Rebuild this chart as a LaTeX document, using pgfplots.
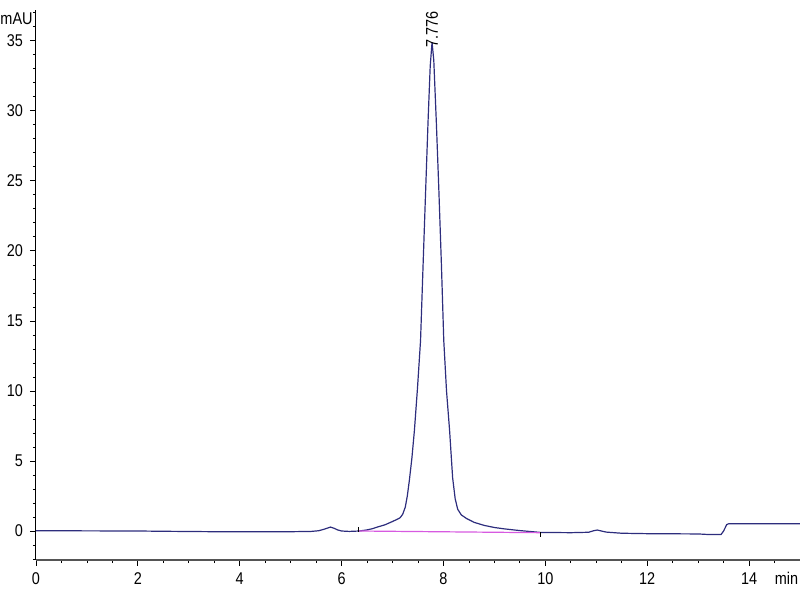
\documentclass[border=0pt]{standalone}
\usepackage{pgfplots}
\pgfplotsset{compat=1.18}
\usepackage{fontspec}
\setmainfont[FakeStretch=0.85]{Liberation Sans}
\definecolor{trace}{RGB}{45,45,125}
\definecolor{basel}{RGB}{215,90,225}
\definecolor{axgray}{RGB}{85,85,85}
\begin{document}
\begin{tikzpicture}
\begin{axis}[
  scale only axis, width=382pt, height=275pt,
  xmin=0, xmax=15, ymin=-2.07, ymax=37.2,
  axis x line*=bottom, axis y line*=left,
  axis line style={-},
  x axis line style={draw=axgray, line width=1.1pt},
  y axis line style={draw=black, line width=0.5pt},
  xtick={0,2,...,14}, minor xtick={0,0.5,...,15},
  ytick={0,5,...,35}, minor ytick={-2,-1,...,37},
  tick align=outside,
  major tick length=3pt, minor tick length=1.6pt,
  tick style={black, line width=0.4pt},
  ticklabel style={font=\fontsize{8.5}{9}\selectfont},
  /pgf/number format/assume math mode=true,
  clip=false,
]
\addplot[trace, line width=0.6pt] coordinates {
(0,0.02) (1,0.01) (2,0.0) (2.5,-0.02) (3.5,-0.05) (4.5,-0.05) (5.0,-0.05) (5.4,-0.03)
(5.55,0.02) (5.65,0.12) (5.78,0.28) (5.85,0.2) (5.92,0.08) (6.0,0.0) (6.15,-0.03)
(6.35,0.0) (6.5,0.08) (6.6,0.16) (6.7,0.28) (6.85,0.44) (7.0,0.68) (7.1,0.85) (7.15,0.95)
(7.2,1.2) (7.25,1.7) (7.29,2.5) (7.33,3.6) (7.38,5.2) (7.43,7.2) (7.49,10.2) (7.55,13.6)
(7.6,19.0) (7.65,24.3) (7.7,29.5) (7.74,33.2) (7.776,34.9) (7.81,33.6) (7.86,29.2)
(7.91,24.3) (7.96,19.0) (8.006,13.6) (8.06,10.0) (8.12,7.2) (8.18,3.8) (8.23,2.3)
(8.28,1.55) (8.35,1.15) (8.45,0.9) (8.6,0.62) (8.8,0.4) (9.0,0.25) (9.2,0.15) (9.5,0.03)
(9.9,-0.1) (10.5,-0.12) (10.85,-0.09) (10.95,0.02) (11.02,0.07) (11.1,0.0) (11.2,-0.08)
(11.5,-0.16) (12.0,-0.19) (13.0,-0.21) (13.2,-0.25) (13.45,-0.25) (13.5,0.0)
(13.56,0.45) (13.6,0.52) (15,0.52)
};
\addplot[basel, line width=0.6pt] coordinates {(6.33,0.0) (9.9,-0.12)};
\addplot[black, line width=0.4pt] coordinates {(6.33,-0.07) (6.33,0.32)};
\addplot[black, line width=0.4pt] coordinates {(9.9,-0.1) (9.9,-0.42)};
\node[rotate=90, anchor=west, inner sep=0pt, font=\fontsize{8.5}{9}\selectfont] at (axis cs:7.776,34.5) {7.776};
\node[anchor=east, inner sep=0pt, font=\fontsize{8.5}{9}\selectfont] at ([xshift=-1.5pt]axis cs:0,36.6) {mAU};
\node[anchor=east, inner sep=0pt, font=\fontsize{8.5}{9}\selectfont] at ([yshift=-9pt]axis cs:14.97,-2.07) {min};
\end{axis}
\pgfresetboundingbox
\path[use as bounding box] (-18pt,-20pt) rectangle (382pt,280pt);
\end{tikzpicture}
\end{document}
